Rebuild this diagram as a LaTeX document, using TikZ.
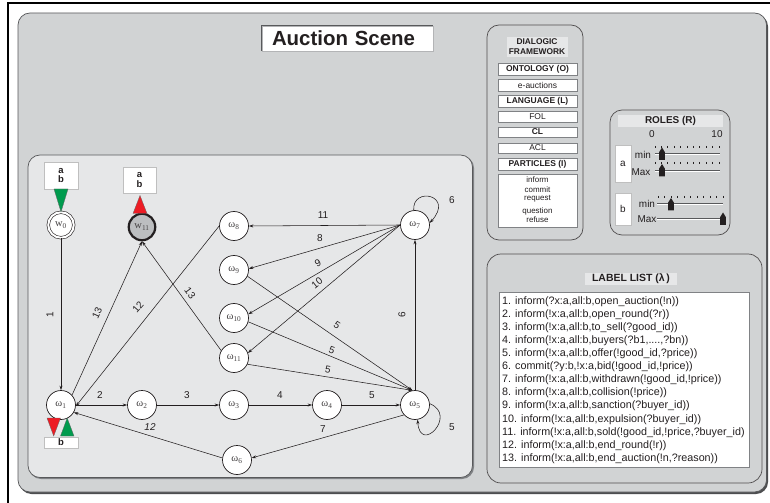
\documentclass[tikz,border=0pt]{standalone}
\usepackage{fontspec}
\setmainfont{Liberation Sans}
\newfontfamily\statefont{Liberation Serif}
\usetikzlibrary{arrows.meta,calc}

\definecolor{panelgray}{HTML}{D1D3D4}
\definecolor{areagray}{HTML}{E6E7E8}
\definecolor{ink}{HTML}{231F20}
\definecolor{rimgray}{HTML}{58595B}
\definecolor{shadegray}{HTML}{808285}
\definecolor{okgreen}{HTML}{009B4E}
\definecolor{stopred}{HTML}{ED1C24}
\definecolor{stategray}{HTML}{BCBEC0}

\tikzset{
  panel/.style={fill=panelgray, draw=rimgray, line width=0.7bp, rounded corners=12bp},
  area/.style={fill=areagray, draw=rimgray, line width=0.7bp, rounded corners=12bp},
  state/.style={circle, draw=ink, line width=0.7bp, fill=white, minimum size=29bp,
    inner sep=0pt, font=\statefont\fontsize{10.5}{11}\selectfont, text=ink!85},
  startstate/.style={state, double=white, double distance=2bp, line width=0.6bp, minimum size=25.5bp},
  endstate/.style={state, fill=stategray, line width=2.2bp, minimum size=26.5bp},
  flow/.style={-{Stealth[length=4.5bp,width=3bp]}, draw=ink, line width=0.55bp},
  elabel/.style={font=\fontsize{10}{12}\selectfont, text=ink, inner sep=0pt},
  rolebox/.style={fill=white, draw=black!25, line width=0.4bp, inner sep=0pt,
    font=\bfseries\fontsize{9.5}{11.5}\selectfont, text=ink, align=center},
  slot/.style={fill=white, draw=shadegray, line width=0.45bp, inner sep=0pt,
    minimum width=79bp, font=\fontsize{8.5}{9}\selectfont, text=ink},
  boldslot/.style={slot, font=\bfseries\fontsize{8.5}{9}\selectfont},
  header/.style={fill=areagray, inner sep=0pt, font=\bfseries\fontsize{8}{9.5}\selectfont,
    text=ink, align=center},
  listline/.style={anchor=west, inner sep=0pt, font=\fontsize{10.8}{12}\selectfont, text=ink},
  small/.style={inner sep=0pt, font=\fontsize{10}{11}\selectfont, text=ink},
  plabel/.style={inner sep=0pt, font=\fontsize{8}{9}\selectfont, text=ink},
  knob/.pic={\fill[ink] (-2.8,6) -- (-2.8,-2) -- (0,-6.5) -- (2.8,-2) -- (2.8,6) -- cycle;}
}

\begin{document}
\begin{tikzpicture}[x=1bp,y=-1bp]
\useasboundingbox (0,0) rectangle (770,503);
\clip (0,0) rectangle (770,503);
\fill[white] (0,0) rectangle (770,503);

% frame
\draw[black, line width=2.2bp] (8,520) -- (8,3) -- (790,3);

% main panel with drop shadow
\fill[shadegray!60!black, rounded corners=12bp] (19.5,14.5) rectangle (768,494);
\draw[panel] (18,13) rectangle (766.5,492);

% title with an inset edge on top and left
\node[fill=white, draw=shadegray!60, line width=0.5bp, minimum width=171bp, minimum height=25bp,
      text width=151bp, align=left, inner sep=0pt, font=\bfseries\fontsize{20.5}{22}\selectfont, text=ink]
      (title) at (347.5,38.5) {Auction Scene};
\draw[rimgray, line width=0.8bp] (title.south west) -- (title.north west) -- (title.north east);

% graph area
\fill[shadegray, rounded corners=12bp] (29,156) rectangle (474,479);
\draw[area] (28,155) rectangle (472.5,477.5);

% states
\node[startstate] (w0) at (61,225) {w\textsubscript{0}};
\node[endstate] (wend) at (142,227) {w\textsubscript{11}};
\node[state] (w1) at (61,405) {ω\textsubscript{1}};
\node[state] (w2) at (142,405) {ω\textsubscript{2}};
\node[state] (w3) at (234,405) {ω\textsubscript{3}};
\node[state] (w4) at (327,405) {ω\textsubscript{4}};
\node[state] (w5) at (415,405) {ω\textsubscript{5}};
\node[state] (w6) at (237,460) {ω\textsubscript{6}};
\node[state] (w7) at (415,225) {ω\textsubscript{7}};
\node[state] (w8) at (234,226) {ω\textsubscript{8}};
\node[state] (w9) at (234,270) {ω\textsubscript{9}};
\node[state] (w10) at (234,318) {ω\textsubscript{10}};
\node[state] (w11) at (234,358) {ω\textsubscript{11}};

% role markers
\node[rolebox, minimum width=34bp, minimum height=27bp] (r0) at (61,175.5) {a\\[-1.5bp]b};
\node[rolebox, minimum width=33bp, minimum height=26bp] (rend) at (139.5,180) {a\\[-1.5bp]b};
\node[rolebox, minimum width=34bp, minimum height=11bp, font=\bfseries\fontsize{9.5}{10}\selectfont] (r1) at (61,442.5) {b};
\filldraw[fill=okgreen, draw=ink!70, line width=0.3bp] (54,189) -- (68,189) -- (w0.north) -- cycle;
\filldraw[fill=stopred, draw=ink!70, line width=0.3bp] (133,213.5) -- (147,213.5) -- (140,195.5) -- cycle;
\filldraw[fill=stopred, draw=ink!70, line width=0.3bp] (47,418) -- (60.5,418) -- (53.7,436) -- cycle;
\filldraw[fill=okgreen, draw=ink!70, line width=0.3bp] (60.5,436) -- (74,436) -- (67.2,418) -- cycle;

% transitions
\draw[flow] (w0) -- (w1);
\draw[flow] (w8.west) -- (w1.-5);
\draw[flow] (w1.42) -- (wend.south);
\draw[flow] (w11.150) -- (wend.south);
\draw[flow] (w1) -- (w2);
\draw[flow] (w2) -- (w3);
\draw[flow] (w3) -- (w4);
\draw[flow] (w4) -- (w5);
\draw[flow] (w5.222) -- (w6.8);
\draw[flow] (w6.172) -- (w1.-30);
\draw[flow] (w5) -- (w7);
\draw[flow] (w7.95) .. controls (412,186) and (455,195) .. (w7.8);
\draw[flow] (w5.5) .. controls (458,415) and (420,455) .. (w5.-80);
\draw[flow] (w7.west) -- (w8.east);
\draw[flow] (w7.west) -- (w9.5);
\draw[flow] (w7.west) -- (w10.15);
\draw[flow] (w7.west) -- (w11.20);
\draw[flow] (w9.-25) -- (w5.100);
\draw[flow] (w10.-15) -- (w5.100);
\draw[flow] (w11.-25) -- (w5.100);

% transition labels
\node[elabel, rotate=90] (l1) at (50,315) {1};
\node[elabel, rotate=49] (l12a) at (138,307) {12};
\node[elabel, rotate=65] (l13a) at (97,313) {13};
\node[elabel, rotate=-53] (l13b) at (190,293) {13};
\node[elabel] (l2) at (100,395) {2};
\node[elabel] (l3) at (187,395) {3};
\node[elabel] (l4) at (280,395) {4};
\node[elabel] (l5a) at (372,395) {5};
\node[elabel] (l7) at (323,429.5) {7};
\node[elabel, font=\itshape\fontsize{10}{12}\selectfont] (l12b) at (150,427.5) {12};
\node[elabel, rotate=90] (l6a) at (402,315) {6};
\node[elabel] (l6b) at (452,200) {6};
\node[elabel] (l5b) at (452,427) {5};
\node[elabel] (l11) at (323,215) {11};
\node[elabel] (l8) at (320,238) {8};
\node[elabel, rotate=29] (l9) at (318,263) {9};
\node[elabel, rotate=39] (l10) at (317,283) {10};
\node[elabel, rotate=-34] (l5c) at (337,325) {5};
\node[elabel, rotate=-20] (l5d) at (332,350) {5};
\node[elabel, rotate=-10] (l5e) at (328,370) {5};

% dialogic framework panel
\draw[panel, draw=ink!80] (487,25) rectangle (583,240);
\node[header, minimum width=61bp, minimum height=20bp, font=\bfseries\fontsize{8.4}{10}\selectfont] (dfh) at (537,47) {DIALOGIC\\FRAMEWORK};
\node[boldslot, minimum height=12bp] (onto) at (537.5,69) {ONTOLOGY (O)};
\node[slot, minimum height=12bp] (eauc) at (537.5,85) {e-auctions};
\node[boldslot, minimum height=12bp] (lang) at (537.5,101) {LANGUAGE (L)};
\node[slot, minimum height=11bp] (fol) at (537.5,116.5) {FOL};
\node[boldslot, minimum height=10.5bp] (cl) at (537.5,132) {CL};
\node[slot, minimum height=10.5bp] (acl) at (537.5,148) {ACL};
\node[boldslot, minimum height=12bp] (part) at (537.5,164) {PARTICLES (I)};
\node[slot, minimum height=53bp] (plist) at (537.5,200.5) {};
\node[plabel] (p1) at (537.5,179.5) {inform};
\node[plabel] (p2) at (537.5,190) {commit};
\node[plabel] (p3) at (537.5,198.5) {request};
\node[plabel] (p4) at (537.5,211) {question};
\node[plabel] (p5) at (537.5,219.5) {refuse};

% roles panel
\draw[panel, draw=ink!80] (610,110) rectangle (730,235);
\node[header, minimum width=105bp, minimum height=12bp, font=\bfseries\fontsize{10}{11}\selectfont] (rh) at (670.5,121) {ROLES (R)};
\node[small] (s0) at (652,134) {0};
\node[small] (s10) at (717,134) {10};
\node[rolebox, minimum width=16bp, minimum height=37bp, font=\fontsize{10}{11}\selectfont] (ra) at (623,163.5) {a};
\node[rolebox, minimum width=16bp, minimum height=32bp, font=\fontsize{10}{11}\selectfont] (rb) at (623,209) {b};
\node[small] (amin) at (643,154.5) {min};
\node[small] (amax) at (641,172) {Max};
\node[small] (bmin) at (647,203.5) {min};
\node[small] (bmax) at (647,219) {Max};
% slider tracks
\foreach \yy in {153,170} {
  \draw[rimgray, line width=0.7bp] (655,\yy) -- (720,\yy);
  \draw[white, line width=0.7bp] (655,\yy+1) -- (720,\yy+1);
}
\foreach \yy in {203,218} {
  \draw[rimgray, line width=0.7bp] (657,\yy) -- (723,\yy);
  \draw[white, line width=0.7bp] (657,\yy+1) -- (723,\yy+1);
}
% tick rows
\foreach \k in {0,...,10} {
  \draw[ink, line width=0.8bp] ({655+6.4*\k},146) -- ++(0,2.2);
  \draw[ink, line width=0.8bp] ({655+6.4*\k},162) -- ++(0,2.2);
  \draw[ink, line width=0.8bp] ({658+6.5*\k},196) -- ++(0,2.2);
}
% slider knobs
\pic at (662,154) {knob};
\pic at (662,170.5) {knob};
\pic at (671,204.5) {knob};
\pic at (723,219) {knob};

% label list panel
\draw[panel, draw=ink!80, rounded corners=14bp] (487,254) rectangle (762,483);
\node[header, minimum width=92bp, minimum height=12bp, font=\bfseries\fontsize{10.5}{11}\selectfont] (lh) at (631,279) {LABEL LIST (λ\,)};
\node[fill=white, draw=shadegray, line width=0.45bp, minimum width=250bp, minimum height=175bp, inner sep=0pt] (lbox) at (624,379.5) {};
\node[listline] (m1) at (502,302) {1. inform(?x:a,all:b,open\_auction(!n))};
\node[listline] (m2) at (502,315) {2. inform(!x:a,all:b,open\_round(?r))};
\node[listline] (m3) at (502,328) {3. inform(!x:a,all:b,to\_sell(?good\_id))};
\node[listline] (m4) at (502,341) {4. inform(!x:a,all:b,buyers(?b1,....,?bn))};
\node[listline] (m5) at (502,354) {5. inform(!x:a,all:b,offer(!good\_id,?price))};
\node[listline] (m6) at (502,367) {6. commit(?y:b,!x:a,bid(!good\_id,!price))};
\node[listline] (m7) at (502,380) {7. inform(!x:a,all:b,withdrawn(!good\_id,!price))};
\node[listline] (m8) at (502,393) {8. inform(!x:a,all:b,collision(!price))};
\node[listline] (m9) at (502,406) {9. inform(!x:a,all:b,sanction(?buyer\_id))};
\node[listline] (m10) at (502,419.5) {10. inform(!x:a,all:b,expulsion(?buyer\_id))};
\node[listline] (m11) at (502,432.5) {11. inform(!x:a,all:b,sold(!good\_id,!price,?buyer\_id)};
\node[listline] (m12) at (502,445.5) {12. inform(!x:a,all:b,end\_round(!r))};
\node[listline] (m13) at (502,458.5) {13. inform(!x:a,all:b,end\_auction(!n,?reason))};
\end{tikzpicture}
\end{document}
